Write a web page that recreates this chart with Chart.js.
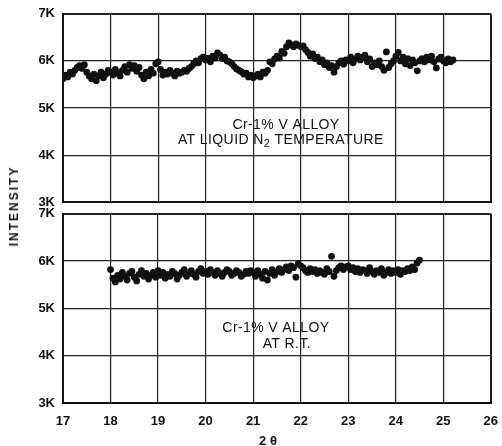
<!DOCTYPE html>
<html>
<head>
<meta charset="utf-8">
<script src="https://cdn.jsdelivr.net/npm/chart.js@4/dist/chart.umd.min.js"></script>
<style>
  body { margin: 0; background: #fff; overflow: hidden; }
  #wrap { position: relative; width: 502px; height: 446px; overflow: hidden; }
  canvas { position: absolute; left: 0; }
  #lowTemp { top: -2px; }
  #roomTemp { top: 198px; }
  .lbl { position: absolute; font-family: "Liberation Sans", Arial, sans-serif; font-weight: bold; color: #111; white-space: nowrap; }
  #ylabel { left: 14px; top: 206px; transform: translate(-50%, -50%) rotate(-90deg); font-size: 12px; letter-spacing: 2px; }
  #xlabel { left: 268px; top: 440px; transform: translate(-50%, -50%); font-size: 13px; }
</style>
</head>
<body>
<div id="wrap">
  <canvas id="lowTemp" width="502" height="220"></canvas>
  <canvas id="roomTemp" width="509" height="249"></canvas>
  <div class="lbl" id="ylabel">INTENSITY</div>
  <div class="lbl" id="xlabel">2 θ</div>
</div>
<script>
// liquid N2 scan
const lowAngle = [
  17.00,17.05,17.10,17.15,17.20,17.25,17.30,17.35,17.40,17.45,17.50,17.55,17.60,17.65,17.70,17.75,17.80,17.85,17.90,17.95,
  18.00,18.05,18.10,18.15,18.20,18.25,18.30,18.35,18.40,18.45,18.50,18.55,18.60,18.65,18.70,18.75,18.80,18.85,18.90,18.95,
  19.00,19.05,19.10,19.15,19.20,19.25,19.30,19.35,19.40,19.45,19.50,19.55,19.60,19.65,19.70,19.75,19.80,19.85,19.90,19.95,
  20.00,20.05,20.10,20.15,20.20,20.25,20.30,20.35,20.40,20.45,20.50,20.55,20.60,20.65,20.70,20.75,20.80,20.85,20.90,20.95,
  21.00,21.05,21.10,21.15,21.20,21.25,21.30,21.35,21.40,21.45,21.50,21.55,21.60,21.65,21.70,21.75,21.80,21.85,21.90,21.95,
  22.00,22.05,22.10,22.15,22.20,22.25,22.30,22.35,22.40,22.45,22.50,22.55,22.60,22.65,22.70,22.75,22.80,22.85,22.90,22.95,
  23.00,23.05,23.10,23.15,23.20,23.25,23.30,23.35,23.40,23.45,23.50,23.55,23.60,23.65,23.70,23.75,23.80,23.85,23.90,23.95,
  24.00,24.05,24.10,24.15,24.20,24.25,24.30,24.35,24.40,24.45,24.50,24.55,24.60,24.65,24.70,24.75,24.80,24.85,24.90,24.95,
  25.00,25.05,25.10,25.15,25.20
];
const lowIntensity = [
  5620,5700,5660,5760,5720,5800,5860,5900,5840,5920,5760,5680,5620,5720,5580,5680,5760,5640,5720,5800,
  5760,5700,5820,5740,5680,5800,5880,5760,5920,5840,5900,5780,5860,5700,5620,5760,5680,5820,5740,5940,
  5980,5820,5700,5760,5720,5800,5740,5680,5780,5740,5760,5800,5780,5840,5880,5940,6000,5960,6050,6080,
  6020,6060,5980,6100,6060,6170,6120,6050,6080,6000,5980,5940,5880,5830,5800,5770,5720,5740,5660,5700,
  5640,5680,5720,5660,5760,5740,5800,5980,5940,6040,6100,6060,6200,6160,6300,6380,6340,6300,6360,6330,
  6300,6320,6240,6180,6100,6150,6050,6080,5980,6020,5920,5960,5860,5900,5760,5880,5960,6000,5930,6020,
  6000,6080,5960,6040,6100,6020,6080,6120,5980,6040,5880,5960,5920,6000,5880,5800,6190,5860,5940,6000,
  6100,6180,6000,6080,5940,6050,5900,6020,5960,5790,6000,6050,5980,6080,6020,6100,5980,5850,6040,6080,
  6000,5960,6040,5980,6020
];
// room temperature scan
const rtAngle = [
  18.00,18.05,18.10,18.15,18.20,18.25,18.30,18.35,18.40,18.45,18.50,18.55,18.60,18.65,18.70,18.75,18.80,18.85,18.90,18.95,
  19.00,19.05,19.10,19.15,19.20,19.25,19.30,19.35,19.40,19.45,19.50,19.55,19.60,19.65,19.70,19.75,19.80,19.85,19.90,19.95,
  20.00,20.05,20.10,20.15,20.20,20.25,20.30,20.35,20.40,20.45,20.50,20.55,20.60,20.65,20.70,20.75,20.80,20.85,20.90,20.95,
  21.00,21.05,21.10,21.15,21.20,21.25,21.30,21.35,21.40,21.45,21.50,21.55,21.60,21.65,21.70,21.75,21.80,21.85,21.90,21.95,
  22.00,22.05,22.10,22.15,22.20,22.25,22.30,22.35,22.40,22.45,22.50,22.55,22.60,22.65,22.70,22.75,22.80,22.85,22.90,22.95,
  23.00,23.05,23.10,23.15,23.20,23.25,23.30,23.35,23.40,23.45,23.50,23.55,23.60,23.65,23.70,23.75,23.80,23.85,23.90,23.95,
  24.00,24.05,24.10,24.15,24.20,24.25,24.30,24.35,24.40,24.45,24.50
];
const rtIntensity = [
  5820,5640,5560,5700,5620,5760,5680,5600,5740,5780,5660,5580,5720,5800,5680,5740,5620,5700,5760,5660,
  5800,5700,5760,5640,5720,5680,5780,5740,5620,5700,5760,5820,5680,5740,5800,5720,5660,5780,5840,5740,
  5780,5720,5820,5760,5700,5800,5740,5680,5760,5820,5780,5700,5740,5800,5760,5680,5720,5780,5740,5800,
  5760,5680,5800,5720,5640,5780,5600,5740,5820,5700,5780,5840,5760,5820,5880,5800,5900,5860,5660,5940,
  5900,5860,5800,5760,5840,5780,5820,5740,5800,5760,5720,5840,5780,6100,5680,5800,5860,5900,5820,5880,
  5900,5820,5860,5780,5840,5760,5820,5800,5740,5860,5780,5720,5800,5760,5840,5700,5760,5820,5740,5800,
  5760,5820,5720,5800,5780,5840,5800,5880,5820,5960,6020
];
const yTicks = [3000, 4000, 5000, 6000, 7000];
const xTicks = [17, 18, 19, 20, 21, 22, 23, 24, 25, 26];

// each line is a list of [text, isSubscript] parts
const lowNotes = [
  { parts: [['Cr-1% V ALLOY', false]], x: 21.69, y: 4640 },
  { parts: [['AT LIQUID N', false], ['2', true], [' TEMPERATURE', false]], x: 21.58, y: 4320 }
];
const rtNotes = [
  { parts: [['Cr-1% V ALLOY', false]], x: 21.48, y: 4590 },
  { parts: [['AT R.T.', false]], x: 21.71, y: 4250 }
];

const mainFont = '14px "Liberation Sans", Arial, sans-serif';
const subFont = '11px "Liberation Sans", Arial, sans-serif';

const notesPlugin = {
  id: 'notes',
  afterDatasetsDraw(chart, args, opts) {
    const { ctx, scales } = chart;
    ctx.save();
    ctx.fillStyle = '#111';
    ctx.letterSpacing = '0.4px';
    ctx.textAlign = 'left';
    ctx.textBaseline = 'middle';
    opts.lines.forEach(l => {
      const widths = l.parts.map(([t, sub]) => { ctx.font = sub ? subFont : mainFont; return ctx.measureText(t).width; });
      const total = widths.reduce((a, b) => a + b, 0);
      let px = scales.x.getPixelForValue(l.x) - total / 2;
      const py = scales.y.getPixelForValue(l.y);
      l.parts.forEach(([t, sub], i) => {
        ctx.font = sub ? subFont : mainFont;
        ctx.fillText(t, px, sub ? py + 4 : py);
        px += widths[i];
      });
    });
    ctx.restore();
  }
};

const tickFont = { family: '"Liberation Sans", Arial, sans-serif', size: 13, weight: 'bold' };
const edgeWidth = c => (c.index === 0 || c.index === c.scale.ticks.length - 1) ? 2 : 1.2;

function makePanel(id, angles, values, notes, showX, xHeight) {
  return new Chart(document.getElementById(id), {
    type: 'scatter',
    data: {
      datasets: [{
        data: angles.map((a, i) => ({ x: a, y: values[i] })),
        backgroundColor: '#111',
        borderWidth: 0,
        pointRadius: 3.4,
        pointHoverRadius: 3.4
      }]
    },
    options: {
      responsive: false,
      animation: false,
      events: [],
      layout: { padding: { top: 8, right: 11, left: 0, bottom: 0 } },
      plugins: { legend: { display: false }, tooltip: { enabled: false }, notes: { lines: notes } },
      scales: {
        x: {
          type: 'linear', min: 17, max: 26,
          afterBuildTicks: s => { s.ticks = xTicks.map(v => ({ value: v })); },
          afterFit: s => { s.height = xHeight; },
          grid: { color: '#222', lineWidth: edgeWidth, drawTicks: false },
          border: { color: '#111', width: 2 },
          ticks: { display: showX, color: '#111', font: tickFont, padding: 11, maxRotation: 0 }
        },
        y: {
          min: 3000, max: 7000,
          afterBuildTicks: s => { s.ticks = yTicks.map(v => ({ value: v })); },
          afterFit: s => { s.width = 63; },
          grid: { color: '#222', lineWidth: edgeWidth, drawTicks: false },
          border: { color: '#111', width: 2 },
          ticks: { color: '#111', font: tickFont, padding: 8, callback: v => (v / 1000) + 'K' }
        }
      }
    },
    plugins: [notesPlugin]
  });
}

makePanel('lowTemp', lowAngle, lowIntensity, lowNotes, false, 8);
makePanel('roomTemp', rtAngle, rtIntensity, rtNotes, true, 44);
</script>
</body>
</html>
